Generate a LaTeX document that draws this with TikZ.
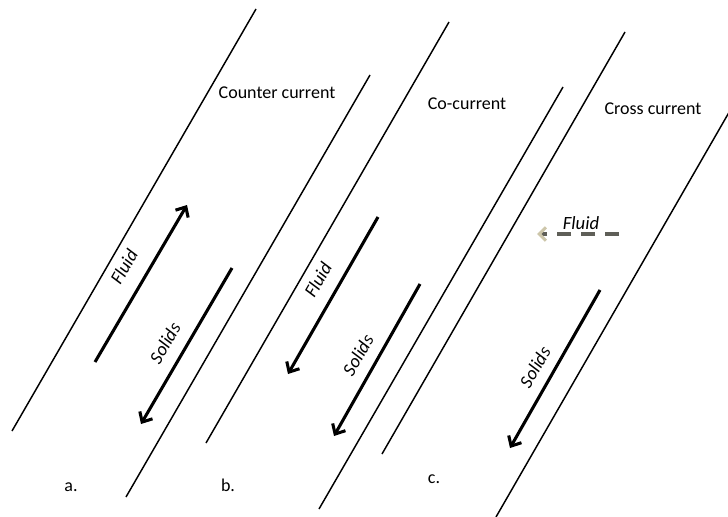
\documentclass[tikz,border=0pt]{standalone}
\usepackage{fontspec}
\setmainfont{Carlito}
\usetikzlibrary{arrows.meta}
\definecolor{fluidtip}{RGB}{205,198,170}
\definecolor{fluiddash}{RGB}{95,95,88}
\tikzstyle{wall} = [
    line width = 1.1pt
]
\tikzstyle{flow} = [
    line width = 2.3pt,
    -{Straight Barb[length = 6pt, width = 11pt]}
]
\tikzstyle{tag} = [
    inner sep = 0pt,
    font = \fontsize{13.5}{15}\selectfont
]
\tikzstyle{flowtag} = [
    inner sep = 0pt,
    font = \fontsize{14}{16}\selectfont\itshape
]

\begin{document}
\begin{tikzpicture}[x = 0.75pt, y = -0.75pt]
    \clip (0,0) rectangle (728,517);

    % pipe walls
    \draw[wall] (256,9) -- (12,431);
    \draw[wall] (370,75) -- (126,497);
    \draw[wall] (449,22) -- (206,443);
    \draw[wall] (563,87) -- (319,509);
    \draw[wall] (625,32) -- (382,454);
    \draw[wall] (739,95) -- (496,517);

    \node[tag] (ccTitle) at (277,93) {Counter current};
    \node[tag] (coTitle) at (467,104) {Co-current};
    \node[tag] (xcTitle) at (653,109) {Cross current};

    % a.
    \coordinate (aFluidFrom) at (95,362);
    \coordinate (aFluidTo) at (187,205);
    \coordinate (aSolidsFrom) at (232,268);
    \coordinate (aSolidsTo) at (141,424);
    \draw[flow] (aFluidFrom) -- (aFluidTo);
    \draw[flow] (aSolidsFrom) -- (aSolidsTo);
    \node[flowtag, rotate = 60] (aFluid) at (124,267) {Fluid};
    \node[flowtag, rotate = 60] (aSolids) at (165,343) {Solids};
    \node[tag] (aTag) at (71,487) {a.};

    % b.
    \coordinate (bFluidFrom) at (378,217);
    \coordinate (bFluidTo) at (288,374);
    \coordinate (bSolidsFrom) at (420,284);
    \coordinate (bSolidsTo) at (334,436);
    \draw[flow] (bFluidFrom) -- (bFluidTo);
    \draw[flow] (bSolidsFrom) -- (bSolidsTo);
    \node[flowtag, rotate = 60] (bFluid) at (318,280) {Fluid};
    \node[flowtag, rotate = 60] (bSolids) at (358,355) {Solids};
    \node[tag] (bTag) at (228,485) {b.};

    % c.
    \coordinate (cFluidFrom) at (619,234);
    \coordinate (cFluidTo) at (537,234);
    \coordinate (cSolidsFrom) at (600,290);
    \coordinate (cSolidsTo) at (510,448);
    \draw[flow, fluiddash, dash pattern = on 10.5pt off 7.5pt,
        -{Straight Barb[length = 5pt, width = 10pt, color = fluidtip]}]
        (cFluidFrom) -- (cFluidTo);
    \draw[flow] (cSolidsFrom) -- (cSolidsTo);
    \node[flowtag] (cFluid) at (581,223) {Fluid};
    \node[flowtag, rotate = 60] (cSolids) at (535,367) {Solids};
    \node[tag] (cTag) at (434,479) {c.};
\end{tikzpicture}
\end{document}
